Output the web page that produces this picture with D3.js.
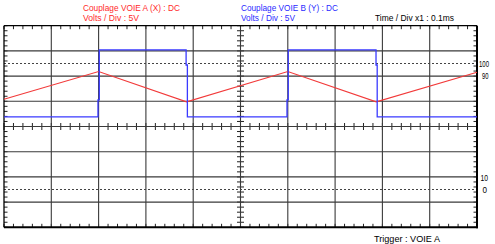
<!DOCTYPE html>
<html><head><meta charset="utf-8">
<script src="https://cdn.jsdelivr.net/npm/d3@7"></script>
<style>
html,body{margin:0;padding:0;background:#fff;}
svg{display:block;}
text{font-family:"Liberation Sans",Arial,sans-serif;}
</style></head>
<body>
<svg id="c" width="495" height="244"></svg>
<script>
// time in ms, voltage in V (5 V / div, screen centre = 0 V)
const timeA = [0, 0.2, 0.386, 0.6, 0.787, 1.0];
const voltA = [5.4, 10.9, 4.9, 10.9, 4.9, 10.75];
const timeB = [0, 0.1987, 0.1987, 0.2015, 0.2015, 0.385, 0.385, 0.3877, 0.3877,
               0.5983, 0.5983, 0.601, 0.601, 0.7865, 0.7865, 0.789, 0.789, 1.0];
const voltB = [1.9, 1.9, 5.3, 5.3, 15.2, 15.2, 12.2, 12.2, 1.9,
               1.9, 5.3, 5.3, 15.2, 15.2, 12.2, 12.2, 1.9, 1.9];
const markerLabelsTop = ["100", "90"];
const markerLabelsBottom = ["10", "0"];
const headerA = ["Couplage VOIE A (X) : DC", "Volts / Div : 5V"];
const headerB = ["Couplage VOIE B (Y) : DC", "Volts / Div : 5V"];
const timeLabel = "Time / Div x1 : 0.1ms";
const triggerLabel = "Trigger : VOIE A";

const svg = d3.select("#c");
const L = 4, R = 477, T = 25.7, B = 227.3;
const x = d3.scaleLinear().domain([0, 1]).range([L, R]);
const y = d3.scaleLinear().domain([-20, 20]).range([B, T]);
const red = "#f23a3a", blue = "#3a3aff";

const g = svg.append("g");
// minor ticks
const xMinor = d3.range(0, 1.0001, 0.02);
const yMinor = d3.range(-20, 20.0001, 1);
const tk = 3.5;
xMinor.forEach(t => {
  const px = x(t);
  g.append("line").attr("x1", px).attr("x2", px).attr("y1", T).attr("y2", T + tk).attr("stroke", "#222");
  g.append("line").attr("x1", px).attr("x2", px).attr("y1", B).attr("y2", B - tk).attr("stroke", "#222");
  g.append("line").attr("x1", px).attr("x2", px).attr("y1", y(0) - tk).attr("y2", y(0) + tk).attr("stroke", "#222");
});
yMinor.forEach(v => {
  const py = y(v);
  g.append("line").attr("x1", L).attr("x2", L + tk).attr("y1", py).attr("y2", py).attr("stroke", "#222");
  g.append("line").attr("x1", R).attr("x2", R - tk).attr("y1", py).attr("y2", py).attr("stroke", "#222");
  g.append("line").attr("x1", x(0.5) - tk).attr("x2", x(0.5) + tk).attr("y1", py).attr("y2", py).attr("stroke", "#222");
});
// major grid
d3.range(0.1, 1, 0.1).forEach(t => {
  g.append("line").attr("x1", x(t)).attr("x2", x(t)).attr("y1", T).attr("y2", B)
    .attr("stroke", "#3a3a3a").attr("stroke-width", 1.1);
});
d3.range(-15, 20, 5).forEach(v => {
  g.append("line").attr("x1", L).attr("x2", R).attr("y1", y(v)).attr("y2", y(v))
    .attr("stroke", "#3a3a3a").attr("stroke-width", 1.1);
});
// dashed reference lines
[12.5, -12.5].forEach(v => {
  g.append("line").attr("x1", L).attr("x2", R).attr("y1", y(v)).attr("y2", y(v))
    .attr("stroke", "#444").attr("stroke-dasharray", "2,2");
});
// border
g.append("line").attr("x1", L).attr("x2", R).attr("y1", T).attr("y2", T).attr("stroke", "#000").attr("stroke-width", 1.3);
g.append("line").attr("x1", L).attr("x2", L).attr("y1", T).attr("y2", B).attr("stroke", "#000").attr("stroke-width", 1.3);
g.append("line").attr("x1", L).attr("x2", R + 1).attr("y1", B).attr("y2", B).attr("stroke", "#000").attr("stroke-width", 2);
g.append("line").attr("x1", R).attr("x2", R).attr("y1", T).attr("y2", B + 1).attr("stroke", "#000").attr("stroke-width", 2);

// traces
const line = d3.line().x(d => x(d[0])).y(d => y(d[1]));
svg.append("path").datum(d3.zip(timeA, voltA)).attr("d", line)
  .attr("fill", "none").attr("stroke", red).attr("stroke-width", 1.1);
svg.append("path").datum(d3.zip(timeB, voltB)).attr("d", line)
  .attr("fill", "none").attr("stroke", blue).attr("stroke-width", 1.3);

// texts
function txt(s, px, py, col, w) {
  const t = svg.append("text").attr("x", px).attr("y", py).attr("fill", col)
    .attr("font-size", 9.5).text(s);
  if (w) t.attr("textLength", w).attr("lengthAdjust", "spacingAndGlyphs");
  return t;
}
txt(headerA[0], 83, 10.7, "#ff2a2a", 97);
txt(headerA[1], 83, 20.7, "#ff2a2a", 56);
txt(headerB[0], 241, 10.7, "#2a2aff", 97);
txt(headerB[1], 241, 20.7, "#2a2aff", 54);
txt(timeLabel, 375, 20.7, "#000", 79);
txt(triggerLabel, 374, 241.5, "#000", 66);
txt(markerLabelsTop[0], 479, 67.3, "#000", 10);
txt(markerLabelsTop[1], 482, 79.3, "#000", 6.5);
txt(markerLabelsBottom[0], 480.5, 180.7, "#000", 7.5);
txt(markerLabelsBottom[1], 482.5, 193.3, "#000", 4.5);
</script>
</body></html>
